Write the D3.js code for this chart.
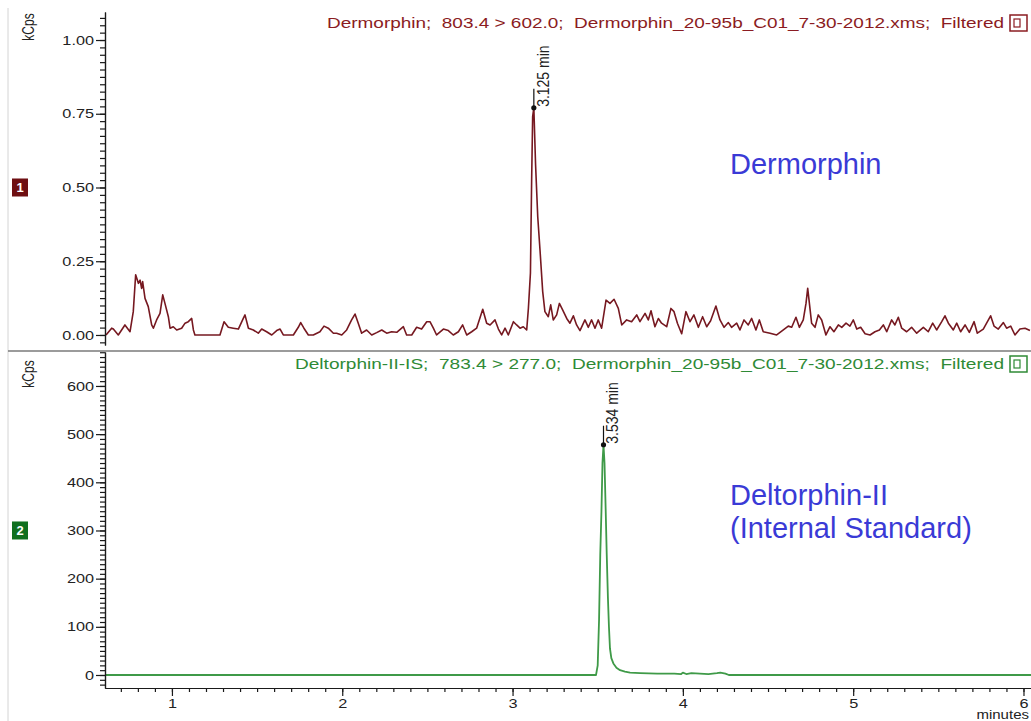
<!DOCTYPE html>
<html>
<head>
<meta charset="utf-8">
<script src="https://cdn.jsdelivr.net/npm/d3@7"></script>
<style>
body { margin: 0; background: #fff; }
svg { display: block; font-family: Arial, "Liberation Sans", sans-serif; }
</style>
</head>
<body>
<svg id="chart" width="1031" height="721"></svg>
<script>
// top trace : Dermorphin 803.4 > 602.0 (kCps)
var topTime = [0.613,0.646,0.656,0.685,0.724,0.754,0.773,0.787,0.803,0.813,0.822,0.828,0.842,0.861,0.881,0.891,0.910,0.930,0.946,0.959,
    0.979,0.989,1.008,1.028,1.057,1.077,1.096,1.116,1.126,1.135,1.184,1.282,1.306,1.331,1.360,1.390,1.419,1.429,1.449,1.478,
    1.507,1.527,1.556,1.586,1.615,1.635,1.654,1.713,1.742,1.756,1.775,1.801,1.830,1.869,1.893,1.918,1.948,1.967,1.997,2.026,
    2.055,2.075,2.094,2.114,2.143,2.173,2.202,2.232,2.261,2.290,2.320,2.359,2.378,2.408,2.437,2.466,2.496,2.515,2.535,2.554,
    2.594,2.623,2.652,2.682,2.707,2.731,2.760,2.789,2.825,2.848,2.868,2.897,2.917,2.936,2.956,2.975,3.005,3.024,3.044,3.063,
    3.083,3.093,3.105,3.112,3.118,3.125,3.135,3.148,3.161,3.177,3.190,3.210,3.224,3.239,3.259,3.275,3.294,3.318,3.337,3.357,
    3.376,3.396,3.425,3.445,3.464,3.484,3.503,3.523,3.549,3.572,3.596,3.621,3.641,3.670,3.699,3.729,3.748,3.778,3.797,3.813,
    3.836,3.856,3.875,3.905,3.930,3.948,3.968,3.993,4.018,4.042,4.065,4.091,4.116,4.140,4.163,4.194,4.218,4.242,4.267,4.286,
    4.316,4.335,4.359,4.384,4.404,4.429,4.449,4.472,4.512,4.551,4.590,4.619,4.639,4.664,4.684,4.707,4.723,4.733,4.743,4.756,
    4.776,4.795,4.815,4.840,4.864,4.887,4.913,4.933,4.958,4.981,5.001,5.021,5.044,5.070,5.099,5.128,5.154,5.177,5.197,5.226,
    5.245,5.265,5.285,5.314,5.343,5.373,5.412,5.441,5.467,5.490,5.520,5.539,5.559,5.588,5.608,5.631,5.657,5.682,5.710,5.729,
    5.764,5.807,5.827,5.852,5.882,5.901,5.925,5.950,5.979,6.009,6.038];
var topSignal = [0,0.023,0.020,0,0.034,0.011,0.079,0.204,0.175,0.186,0.158,0.181,0.124,0.096,0.034,0.023,0.051,0.073,0.136,0.107,
    0.062,0.023,0.028,0.017,0.023,0.040,0.045,0.056,0.017,0,0,0,0.045,0.026,0.023,0.020,0.056,0.068,0.023,0.017,
    0.006,0.020,0.011,0,0.015,0.020,0,0,0.026,0.042,0.023,0,0,0.011,0.030,0.023,0.006,0.006,0,0.017,
    0.051,0.071,0.040,0.006,0.017,0,0.008,0.017,0.006,0.011,0.009,0.028,0,0,0.026,0.020,0.045,0.045,0.023,0,
    0.020,0.015,0,0.011,0.034,0,0.011,0.023,0.087,0.040,0.034,0.051,0.020,0,0.023,0,0.045,0.034,0.023,0.028,
    0.017,0.090,0.210,0.520,0.740,0.770,0.580,0.400,0.290,0.147,0.079,0.062,0.102,0.051,0.068,0.107,0.085,0.056,0.040,0.065,
    0.034,0.015,0.051,0.026,0.051,0.023,0.051,0.023,0.118,0.107,0.121,0.090,0.034,0.051,0.045,0.068,0.045,0.073,0.051,0.082,
    0.028,0.056,0.040,0.028,0.090,0.079,0.040,0.004,0.079,0.045,0.068,0.026,0.062,0.028,0.048,0.098,0.051,0.026,0.042,0.026,
    0.040,0.017,0.051,0.034,0.056,0.017,0.051,0.011,0.006,0,0.017,0.030,0.026,0.060,0.026,0.051,0.107,0.158,0.107,0.040,
    0.026,0.068,0.051,0,0.028,0.011,0.034,0.026,0.040,0.030,0.051,0.020,0.026,0.004,0,0.011,0.017,0.034,0.011,0.051,
    0.034,0.060,0.023,0.011,0.026,0.006,0.026,0.011,0.040,0.017,0.045,0.065,0.040,0.017,0.040,0.011,0.034,0.009,0.045,0.006,
    0.020,0.065,0.030,0.020,0.042,0.023,0.030,0,0.020,0.023,0.015];

// bottom trace : Deltorphin-II-IS 783.4 > 277.0 (kCps)
var botTime = [0.607,3.490,3.500,3.508,3.515,3.522,3.528,3.534,3.540,3.547,3.553,3.560,3.566,3.572,3.580,3.592,3.610,3.631,3.660,3.690,
    3.750,3.850,3.950,3.990,4.000,4.020,4.050,4.100,4.150,4.200,4.220,4.250,4.270,6.050];
var botSignal = [0,0,20,115,250,340,440,478,440,340,250,160,100,55,35,24,15,10,7,5,
    4,3,3,2,5,2,4,3,2,4,5,3,0,0];

var topTicks = [0, 0.25, 0.5, 0.75, 1];
var botTicks = [0, 100, 200, 300, 400, 500, 600];
var timeTicks = [1, 2, 3, 4, 5, 6];
var peakLabels = ["3.125 min", "3.534 min"];

var svg = d3.select("#chart");

// stretch chart texts sideways like the screenshot
function stretch(sel, k) {
    sel.each(function() {
        var w = this.getComputedTextLength();
        d3.select(this).attr("textLength", w * k).attr("lengthAdjust", "spacingAndGlyphs");
    });
}

var x = d3.scaleLinear().domain([0.607, 6.05]).range([105, 1032]);
var yTop = d3.scaleLinear().domain([-0.034, 1.095]).range([345, 12]);
var yBot = d3.scaleLinear().domain([-27, 670.5]).range([688, 352]);

// frame lines
svg.append("line")
    .attr("x1", 8).attr("x2", 8).attr("y1", 8).attr("y2", 721)
    .attr("stroke", "#d4d4d4").attr("stroke-width", 1);
svg.append("line")
    .attr("x1", 8).attr("x2", 1031).attr("y1", 351).attr("y2", 351)
    .attr("stroke", "#7a7a7a").attr("stroke-width", 1.5);

// traces
var topLine = d3.line().x(function(d, i) { return x(topTime[i]); }).y(function(d) { return yTop(d); });
var botLine = d3.line().x(function(d, i) { return x(botTime[i]); }).y(function(d) { return yBot(d); });

svg.append("path")
    .attr("d", topLine(topSignal))
    .attr("fill", "none")
    .attr("stroke", "#761820")
    .attr("stroke-width", 1.6)
    .attr("stroke-linejoin", "round");

svg.append("path")
    .attr("d", botLine(botSignal))
    .attr("fill", "none")
    .attr("stroke", "#3f9a48")
    .attr("stroke-width", 1.8)
    .attr("stroke-linejoin", "round");

// axes
function yAxes(scale, minor, major, fmt) {
    var g = svg.append("g").attr("transform", "translate(105,0)");
    g.append("g")
        .call(d3.axisLeft(scale).tickValues(minor).tickSize(5).tickSizeOuter(0).tickFormat(""));
    var m = g.append("g")
        .call(d3.axisLeft(scale).tickValues(major).tickSize(9).tickSizeOuter(0).tickPadding(2).tickFormat(fmt));
    g.selectAll("path, line").attr("stroke", "#1a1a1a").attr("stroke-width", 1.2);
    m.selectAll("text")
        .attr("font-size", "13px")
        .attr("font-family", "Arial, 'Liberation Sans', sans-serif")
        .attr("fill", "#222");
    stretch(m.selectAll("text"), 1.25);
}

yAxes(yTop, d3.range(-1, 44).map(function(i) { return i * 0.025; }), topTicks, d3.format(".2f"));
yAxes(yBot, d3.range(-2, 68).map(function(i) { return i * 10; }), botTicks, d3.format("d"));

var xg = svg.append("g").attr("transform", "translate(0,688)");
xg.append("g")
    .call(d3.axisBottom(x).tickValues(d3.range(7, 61).map(function(i) { return i / 10; })).tickSize(4).tickSizeOuter(0).tickFormat(""));
var xm = xg.append("g")
    .call(d3.axisBottom(x).tickValues(timeTicks).tickSize(8).tickSizeOuter(0).tickPadding(3).tickFormat(d3.format("d")));
xg.selectAll("path, line").attr("stroke", "#1a1a1a").attr("stroke-width", 1.2);
xm.selectAll("text")
    .attr("font-size", "13px")
    .attr("font-family", "Arial, 'Liberation Sans', sans-serif")
    .attr("fill", "#222");
stretch(xm.selectAll("text"), 1.25);

var minute = svg.append("text")
    .attr("x", 1029).attr("y", 719)
    .attr("text-anchor", "end")
    .attr("font-size", "12px").attr("fill", "#222")
    .text("minutes");
stretch(minute, 1.25);

// kCps labels
[27, 374].forEach(function(yy) {
    svg.append("text")
        .attr("transform", "translate(34," + yy + ") scale(1.3,1) rotate(-90)")
        .attr("text-anchor", "middle")
        .attr("font-size", "12px")
        .attr("fill", "#222")
        .text("kCps");
});

// trace number badges
var badges = [{n: "1", y: yTop(0.5), c: "#6e0f12"}, {n: "2", y: yBot(300), c: "#10701f"}];
badges.forEach(function(b) {
    svg.append("rect")
        .attr("x", 12).attr("y", b.y - 9).attr("width", 16).attr("height", 18)
        .attr("fill", b.c);
    svg.append("text")
        .attr("x", 20).attr("y", b.y + 5)
        .attr("text-anchor", "middle")
        .attr("font-size", "13px").attr("font-weight", "bold")
        .attr("fill", "#fff")
        .text(b.n);
});

// headers
var headers = [
    {t: "Dermorphin;  803.4 > 602.0;  Dermorphin_20-95b_C01_7-30-2012.xms;  Filtered", y: 28, w: 677, c: "#8b1c22"},
    {t: "Deltorphin-II-IS;  783.4 > 277.0;  Dermorphin_20-95b_C01_7-30-2012.xms;  Filtered", y: 369, w: 709, c: "#2f8a36"}
];
headers.forEach(function(h) {
    svg.append("text")
        .attr("x", 1004).attr("y", h.y)
        .attr("text-anchor", "end")
        .attr("font-size", "14px")
        .attr("fill", h.c)
        .attr("textLength", h.w)
        .attr("lengthAdjust", "spacingAndGlyphs")
        .style("white-space", "pre")
        .text(h.t);
    svg.append("rect")
        .attr("x", 1010).attr("y", h.y - 13).attr("width", 17).attr("height", 16)
        .attr("fill", "none").attr("stroke", h.c).attr("stroke-width", 1.5);
    svg.append("rect")
        .attr("x", 1014).attr("y", h.y - 9).attr("width", 6).attr("height", 8)
        .attr("fill", "none").attr("stroke", h.c).attr("stroke-width", 1.2);
});

// peak markers
var peaks = [
    {t: topTime[topSignal.indexOf(d3.max(topSignal))], y: yTop(d3.max(topSignal)), label: peakLabels[0]},
    {t: botTime[botSignal.indexOf(d3.max(botSignal))], y: yBot(d3.max(botSignal)), label: peakLabels[1]}
];
peaks.forEach(function(p) {
    var px = x(p.t);
    svg.append("line")
        .attr("x1", px).attr("x2", px).attr("y1", p.y).attr("y2", p.y - 19)
        .attr("stroke", "#111").attr("stroke-width", 1.2);
    svg.append("circle")
        .attr("cx", px).attr("cy", p.y).attr("r", 2.6)
        .attr("fill", "#111");
    svg.append("text")
        .attr("transform", "translate(" + (px + 15) + "," + (p.y - 1) + ") scale(1.2,1) rotate(-90)")
        .attr("font-size", "14px")
        .attr("fill", "#222")
        .text(p.label);
});

// compound names
var names = [
    {t: "Dermorphin", y: 174},
    {t: "Deltorphin-II", y: 505},
    {t: "(Internal Standard)", y: 538}
];
names.forEach(function(d) {
    svg.append("text")
        .attr("x", 730).attr("y", d.y)
        .attr("font-size", "29px")
        .attr("fill", "#3a3ad6")
        .text(d.t);
});
</script>
</body>
</html>
